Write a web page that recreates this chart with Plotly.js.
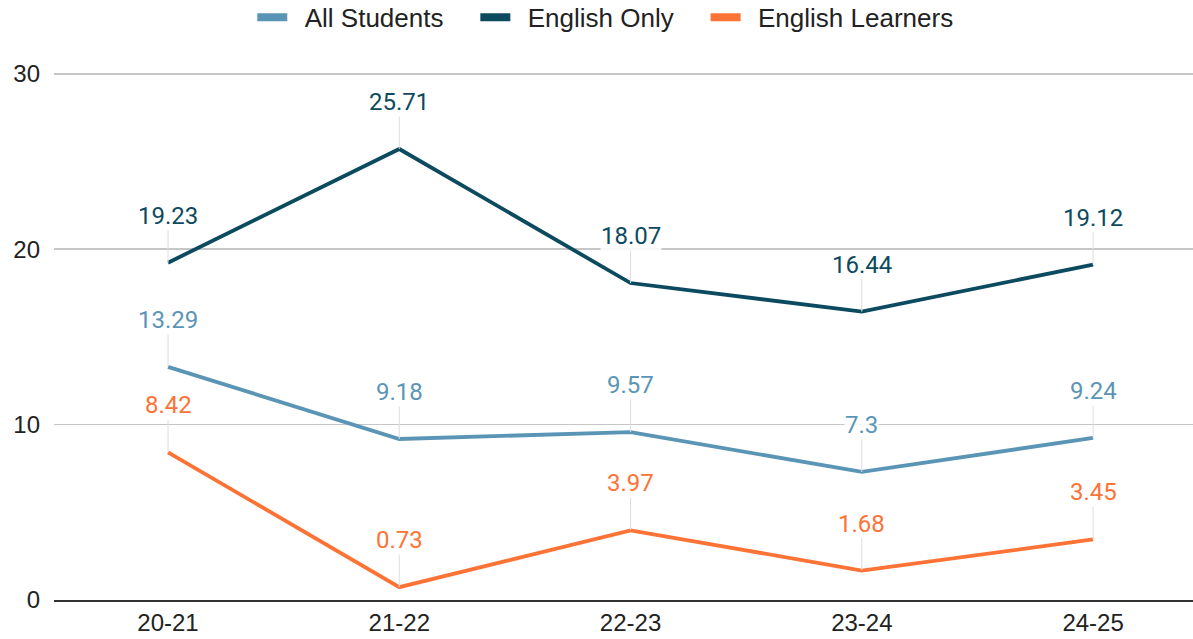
<!DOCTYPE html>
<html>
<head>
<meta charset="utf-8">
<script src="https://cdn.plot.ly/plotly-3.0.1.min.js"></script>
<style>html,body{margin:0;padding:0;background:#fff;}#chart{width:1193px;height:639px;}</style>
</head>
<body>
<div id="chart"></div>
<script>
const years = ["20-21", "21-22", "22-23", "23-24", "24-25"];
const allStudents = [13.29, 9.18, 9.57, 7.3, 9.24];
const englishOnly = [19.23, 25.71, 18.07, 16.44, 19.12];
const englishLearners = [8.42, 0.73, 3.97, 1.68, 3.45];
const seriesNames = ["All Students", "English Only", "English Learners"];
const seriesColors = ["#5b95b5", "#0c4a60", "#fd7235"];
const seriesValues = [allStudents, englishOnly, englishLearners];

const traces = [];
const annotations = [];
seriesValues.forEach((vals, i) => {
  traces.push({
    x: years, y: vals, type: "scatter", mode: "lines",
    line: {color: seriesColors[i], width: 3.8},
    showlegend: false, hoverinfo: "x+y"
  });
  vals.forEach((v, j) => {
    annotations.push({
      x: years[j], y: v, xref: "x", yref: "y",
      text: String(v), showarrow: true, arrowhead: 0, arrowwidth: 1,
      arrowcolor: "#dddddd", ax: 0, ay: -47, standoff: 0,
      bgcolor: "rgba(255,255,255,0.85)", borderpad: 0,
      font: {family: "Roboto", size: 24, color: seriesColors[i]}
    });
  });
});
seriesNames.forEach((n, i) => {
  traces.push({
    x: [null], y: [null], type: "scatter", mode: "lines",
    name: "\u00a0\u2009" + n + (i < seriesNames.length - 1 ? "\u00a0\u00a0\u00a0\u2009" : ""),
    line: {color: seriesColors[i], width: 8}, showlegend: true
  });
});

const layout = {
  width: 1193, height: 639,
  margin: {l: 54, r: 0, t: 72, b: 39},
  paper_bgcolor: "#ffffff", plot_bgcolor: "#ffffff",
  font: {family: "Liberation Sans, Arial, sans-serif", size: 24, color: "#222222"},
  xaxis: {
    type: "category", range: [-0.493, 4.432],
    showgrid: false, showline: true, linecolor: "#333333", linewidth: 2,
    ticks: "", tickfont: {size: 24, color: "#222222"}, zeroline: false
  },
  yaxis: {
    range: [0, 30.1], tickvals: [0, 10, 20, 30], showgrid: true,
    gridcolor: "#c6c6c6", gridwidth: 1.5, zeroline: false,
    ticks: "", ticklabelstandoff: 13, tickfont: {size: 24, color: "#222222"}
  },
  legend: {
    orientation: "h", x: 0.484, xanchor: "center",
    yref: "container", y: 0.973, yanchor: "middle",
    font: {size: 26, color: "#222222"}, itemwidth: 30, bgcolor: "rgba(0,0,0,0)"
  },
  annotations: annotations
};
Plotly.newPlot("chart", traces, layout, {displayModeBar: false, staticPlot: true});
</script>
</body>
</html>
